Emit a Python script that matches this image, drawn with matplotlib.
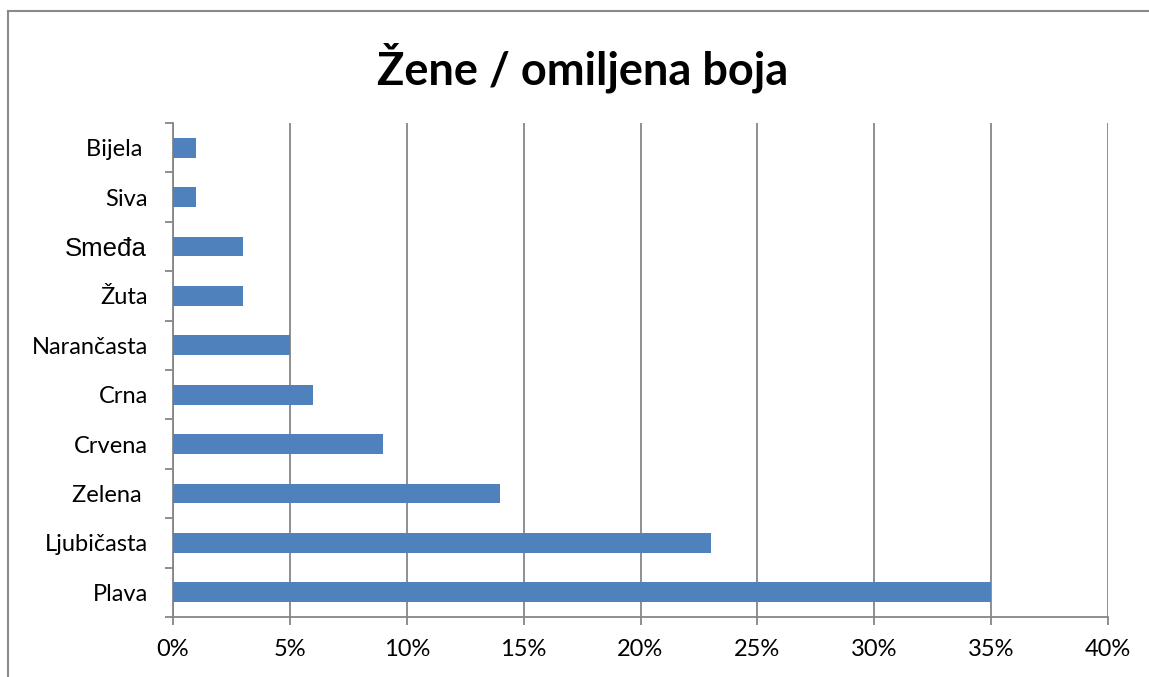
import matplotlib.pyplot as plt
from matplotlib.lines import Line2D
from matplotlib.ticker import MultipleLocator, FuncFormatter, FixedLocator
from matplotlib.transforms import offset_copy

categories = ["Plava", "Ljubičasta", "Zelena ", "Crvena", "Crna",
              "Narančasta", "Žuta", "Smeđa", "Siva", "Bijela "]
values = [35, 23, 14, 9, 6, 5, 3, 3, 1, 1]
title = "Žene / omiljena boja"

BAR_COLOR = "#4F81BD"
GRID_COLOR = "#868686"
FONT = ["Lato", "DejaVu Sans"]
LABEL_PAD = 18

W, H = 1149, 677
fig = plt.figure(figsize=(W / 100, H / 100), dpi=100)
ax = fig.add_axes([173 / W, 1 - 617 / H, (1108 - 173) / W, (617 - 123) / H])

pos = list(range(len(categories)))
ax.barh(pos, values, height=0.4, color=BAR_COLOR, zorder=3)

ax.set_xlim(0, 40)
ax.set_ylim(-0.5, len(categories) - 0.5)
ax.xaxis.set_major_locator(MultipleLocator(5))
ax.xaxis.set_major_formatter(FuncFormatter(lambda v, _: f"{v:.0f}%"))
ax.grid(axis="x", color=GRID_COLOR, linewidth=1.3, zorder=0)

# "Smeđa" is set in a different (Arial-like) font in the original,
# so it is drawn separately and left blank among the tick labels
odd = "Smeđa"
shown = ["" if c == odd else c for c in categories]

# category labels centred, ticks between categories (Excel style)
ax.set_yticks(pos)
ax.set_yticklabels(shown)
ax.tick_params(axis="y", which="major", length=0, pad=LABEL_PAD, labelsize=17, labelfontfamily=FONT)
ax.yaxis.set_minor_locator(FixedLocator([p - 0.5 for p in range(len(categories) + 1)]))
ax.tick_params(axis="y", which="minor", length=6, width=1.3, color=GRID_COLOR)

tr = offset_copy(ax.get_yaxis_transform(), fig=fig, x=-LABEL_PAD - 1, y=-2, units="points")
ax.text(0, categories.index(odd), odd, transform=tr, ha="right", va="center",
        fontsize=18.5, family=["Liberation Sans", "DejaVu Sans"])

ax.tick_params(axis="x", length=6, width=1.3, color=GRID_COLOR, labelsize=17,
               pad=10, labelfontfamily=FONT)

for side in ["top", "right"]:
    ax.spines[side].set_visible(False)
for side in ["left", "bottom"]:
    ax.spines[side].set_color(GRID_COLOR)
    ax.spines[side].set_linewidth(1.3)

fig.text(583 / W, 1 - 68 / H, title, ha="center", va="center",
         fontsize=32.5, fontweight="bold", family=FONT)

# outer chart frame (cut off at right and bottom)
fig.add_artist(Line2D([8 / W, 8 / W], [0, 1 - 11 / H], color="#8a8a8a", lw=1.5, transform=fig.transFigure))
fig.add_artist(Line2D([8 / W, 1], [1 - 11 / H, 1 - 11 / H], color="#8a8a8a", lw=1.5, transform=fig.transFigure))

fig.savefig("out.png", dpi=100)
